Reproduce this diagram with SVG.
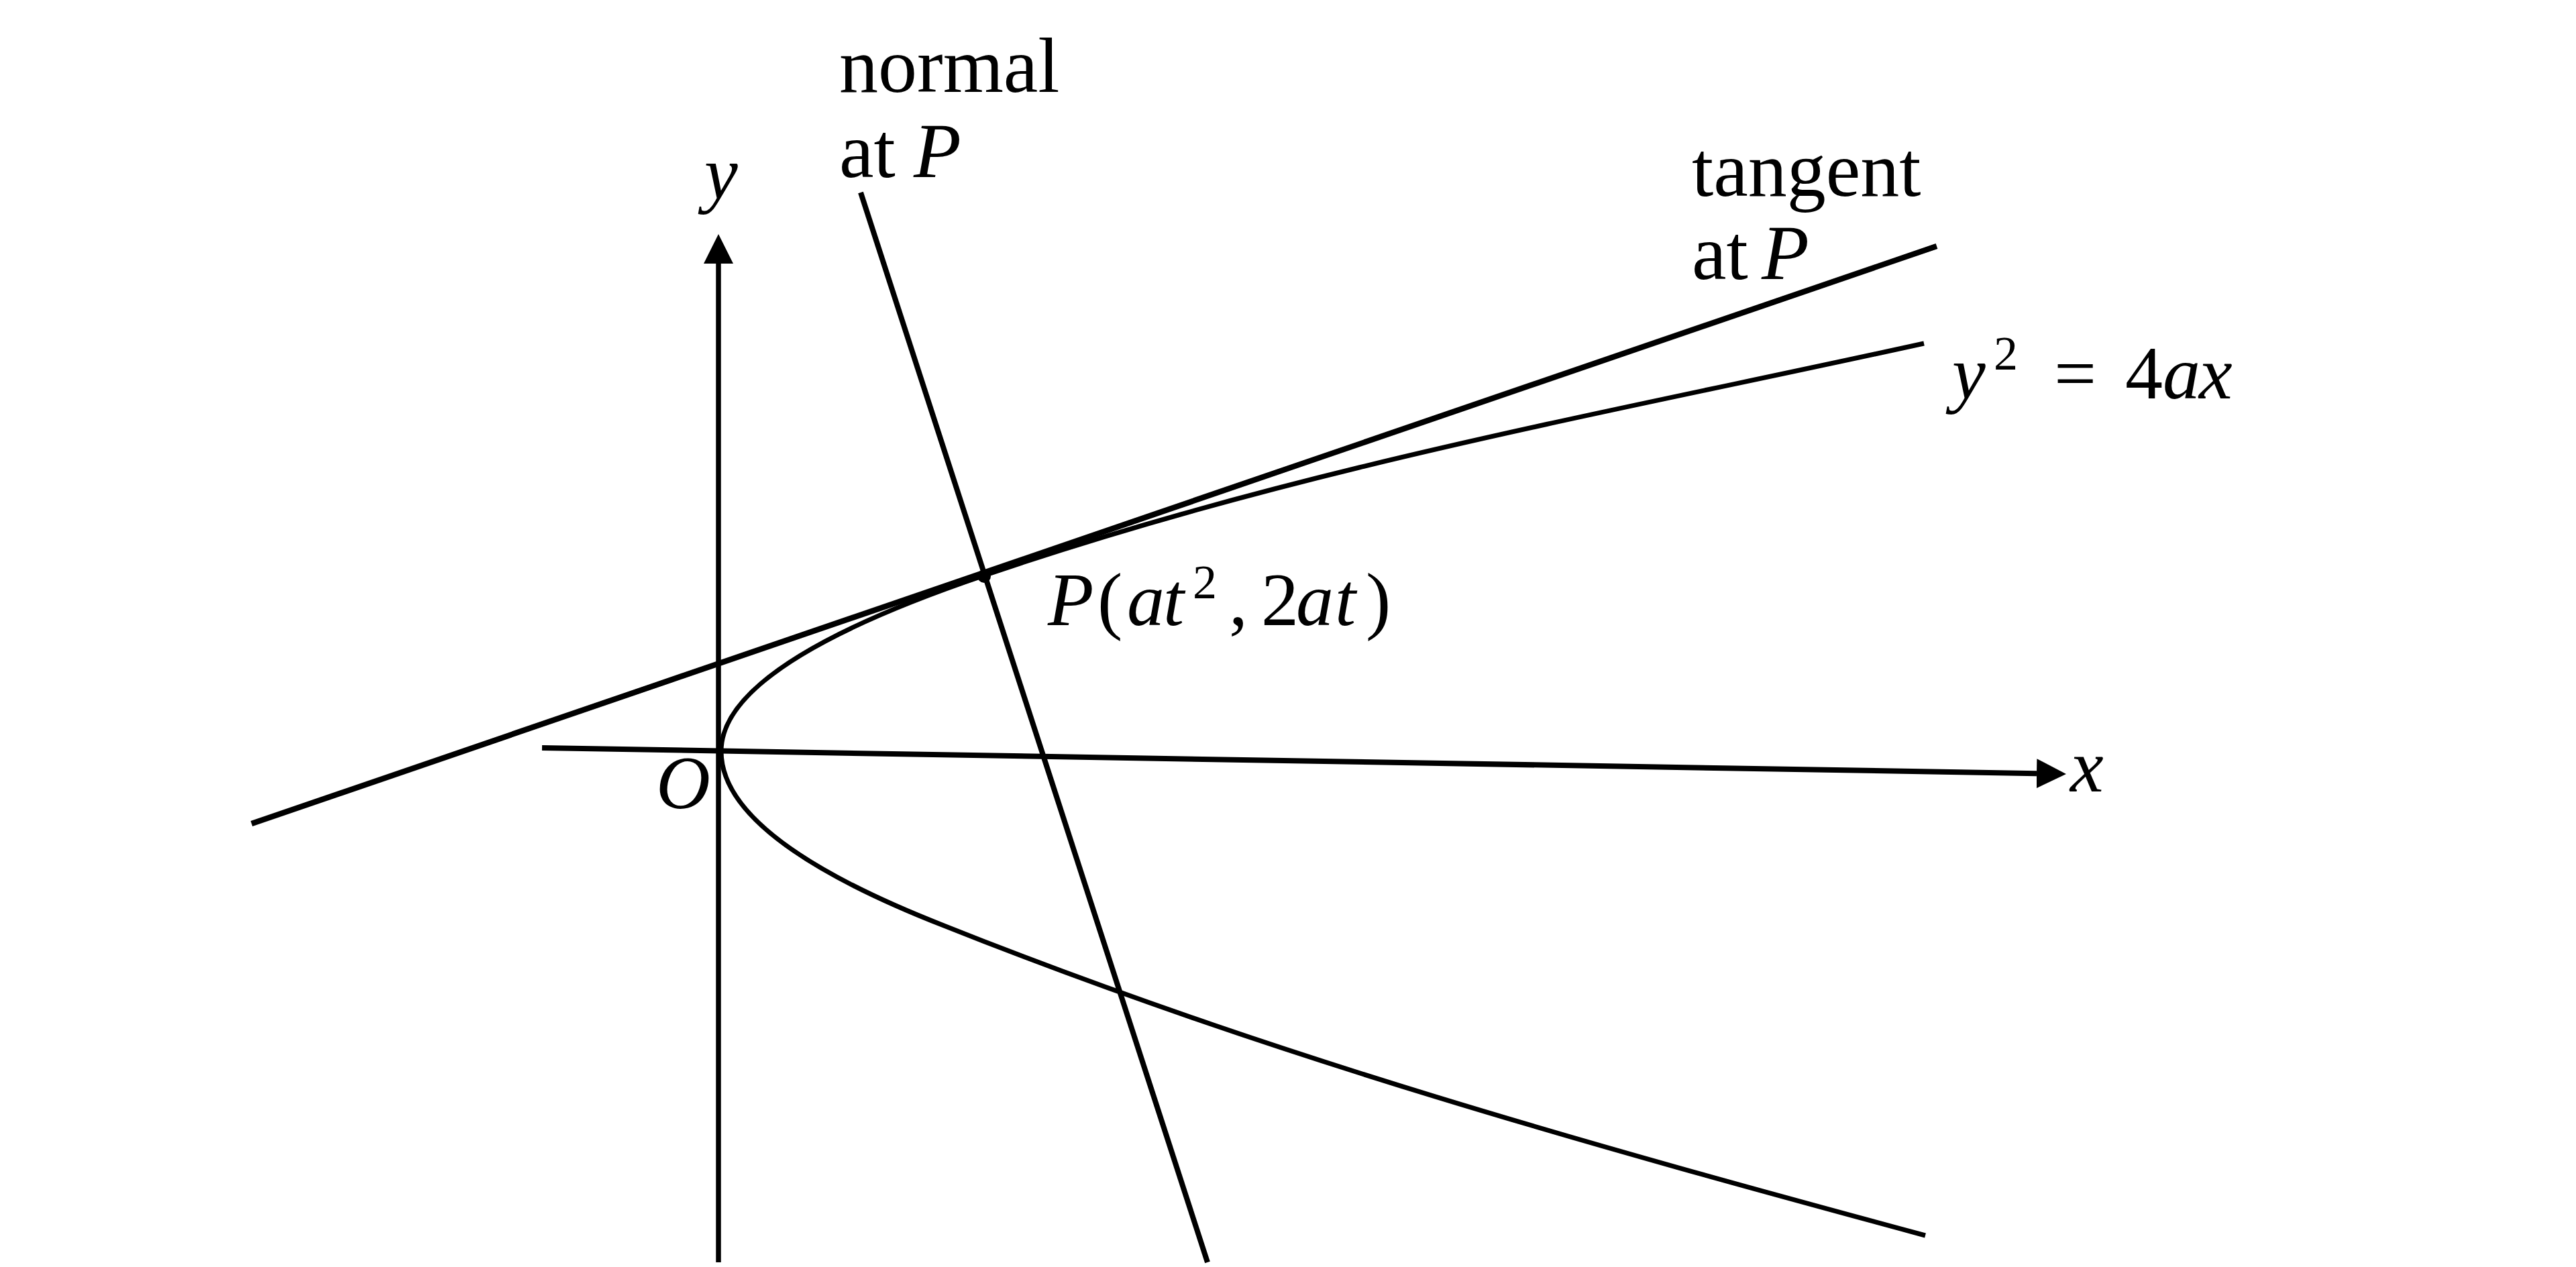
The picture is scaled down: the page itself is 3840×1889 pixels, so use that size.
<svg xmlns="http://www.w3.org/2000/svg" width="3840" height="1889" viewBox="0 0 3840 1889">
<defs>
<style>
.ln{fill:none;stroke:#000;stroke-linecap:butt;stroke-linejoin:round}
.txt{font-family:"Liberation Serif","Times New Roman",serif;font-size:116px;fill:#000}
.m{font-family:"Liberation Serif","Times New Roman",serif;font-style:italic;font-size:112px;fill:#000}
.up{font-style:normal}
.it{font-style:italic}
</style>
<marker id="arr" viewBox="0 0 44 44" refX="0" refY="22" markerWidth="44" markerHeight="44" markerUnits="userSpaceOnUse" orient="auto"><path d="M0,0 L44,22 L0,44 Z" fill="#000"/></marker>
</defs>
<rect width="3840" height="1889" fill="#fff"/>
<g id="connectors">
<line id="y-axis" class="ln" x1="1071" y1="1882" x2="1071" y2="393" stroke-width="7.5" marker-end="url(#arr)"/>
<line id="x-axis" class="ln" x1="808" y1="1115" x2="3036" y2="1153.2" stroke-width="8" marker-end="url(#arr)"/>
<path id="tangent" class="ln" d="M375,1228 L2887,367" stroke-width="8.5"/>
<path id="normal" class="ln" d="M1283,287 L1800,1882" stroke-width="8"/>
<path id="parabola" class="ln" d="M2868,512 C2401,614.7 1934,698 1467,858 Q1075,991 1075,1120 Q1075,1250 1407,1380 C1895,1575 2382,1710 2870,1842" stroke-width="7"/>
</g>
<g id="point-P"><circle cx="1467" cy="859" r="10" fill="#000"/></g>
<g id="label-normal">
<text class="txt" x="1251" y="137">normal</text>
<text class="txt" x="1251" y="264">at<tspan class="it" x="1362">P</tspan></text>
</g>
<g id="label-tangent">
<text class="txt" x="2522" y="292">tangent</text>
<text class="txt" x="2522" y="416">at<tspan class="it" x="2626">P</tspan></text>
</g>
<g id="label-P">
<text class="m" y="932"><tspan x="1562">P</tspan><tspan class="up" x="1636">(</tspan><tspan x="1680">a</tspan><tspan x="1734">t</tspan><tspan class="up" font-size="72" x="1778" y="892">2</tspan><tspan class="up" x="1832" y="932">,</tspan><tspan class="up" x="1880">2</tspan><tspan x="1932">a</tspan><tspan x="1990">t</tspan><tspan class="up" x="2036">)</tspan></text>
</g>
<g id="label-curve">
<text class="m" y="594"><tspan x="2910">y</tspan><tspan class="up" font-size="72" x="2972" y="551">2</tspan><tspan class="up" x="3062" y="594">=</tspan><tspan class="up" x="3168">4</tspan><tspan x="3224">a</tspan><tspan x="3278">x</tspan></text>
</g>
<g id="label-x"><text class="m" x="3086" y="1180">x</text></g>
<g id="label-y"><text class="m" x="1050" y="296">y</text></g>
<g id="label-O"><text class="m" x="978" y="1205">O</text></g>
</svg>
